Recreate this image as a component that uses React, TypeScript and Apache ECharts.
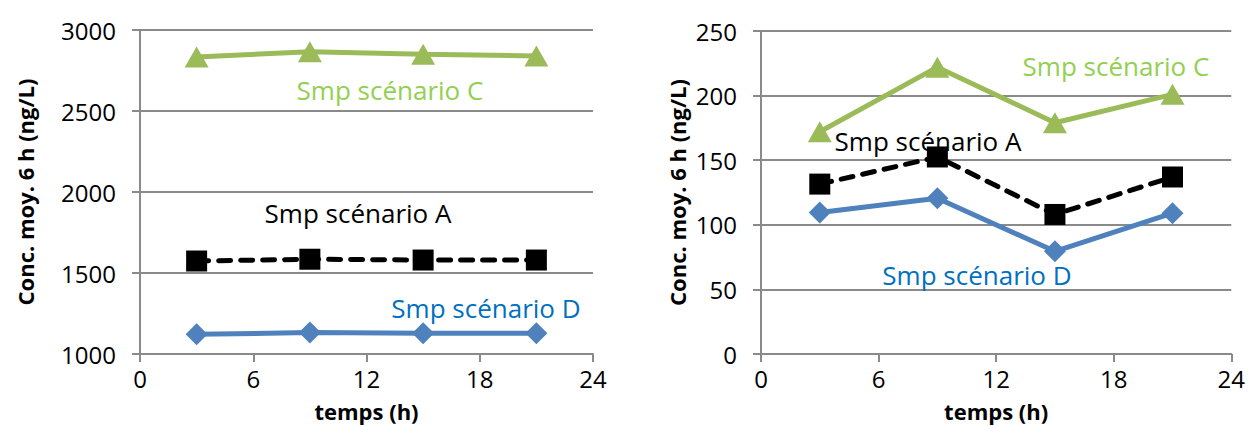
import React, { useEffect, useRef } from "react";
import * as echarts from "echarts";

const hours = [3, 9, 15, 21];
const xTicks = [0, 6, 12, 18, 24];

// Left panel (ng/L)
const leftC = [2833, 2866, 2850, 2840];
const leftA = [1574, 1585, 1580, 1580];
const leftD = [1122, 1132, 1128, 1128];

// Right panel (ng/L)
const rightC = [172, 222, 179, 201];
const rightA = [131.5, 152.5, 108, 137];
const rightD = [109.5, 120.5, 79.5, 109];

const labelC = "Smp scénario C";
const labelA = "Smp scénario A";
const labelD = "Smp scénario D";
const yName = "Conc. moy. 6 h (ng/L)";
const xName = "temps (h)";

const FONT = "'Open Sans', 'Noto Sans', sans-serif";
const GRID = "#8a8a8a";
const GREEN = "#9BBB59";
const BLUE = "#4F81BD";
const GREEN_TXT = "#92D050";
const BLUE_TXT = "#0070C0";

const pair = (ys: number[]) => hours.map((h, i) => [h, ys[i]]);

function xAxis(gridIndex: number) {
  return {
    type: "value",
    gridIndex,
    min: xTicks[0],
    max: xTicks[xTicks.length - 1],
    interval: 6,
    name: xName,
    nameLocation: "middle",
    nameGap: 46,
    nameTextStyle: { fontFamily: FONT, fontSize: 22, fontWeight: "bold", color: "#000", lineHeight: 22 },
    axisLine: { show: true, onZero: false, lineStyle: { color: GRID, width: 2 } },
    axisTick: { show: true, inside: false, length: 8, lineStyle: { color: GRID, width: 2 } },
    axisLabel: { fontFamily: FONT, fontSize: 24, color: "#000", margin: 12, lineHeight: 24 },
    splitLine: { show: false },
  };
}

function yAxis(gridIndex: number, min: number, max: number, interval: number, nameGap: number) {
  return {
    type: "value",
    gridIndex,
    min,
    max,
    interval,
    name: yName,
    nameLocation: "middle",
    nameGap,
    nameRotate: 90,
    nameTextStyle: { fontFamily: FONT, fontSize: 22, fontWeight: "bold", color: "#000" },
    axisLine: { show: true, lineStyle: { color: GRID, width: 2 } },
    axisTick: { show: true, inside: false, length: 8, lineStyle: { color: GRID, width: 2 } },
    axisLabel: {
      fontFamily: FONT,
      fontSize: 24,
      color: "#000",
      margin: 24,
      formatter: (v: number) => String(v),
    },
    splitLine: { show: true, lineStyle: { color: GRID, width: 2 } },
  };
}

function series(idx: number, c: number[], a: number[], d: number[]) {
  return [
    {
      type: "line",
      xAxisIndex: idx,
      yAxisIndex: idx,
      data: pair(d),
      symbol: "diamond",
      symbolSize: [22, 22],
      itemStyle: { color: BLUE },
      lineStyle: { color: BLUE, width: 5 },
      z: 3,
    },
    {
      type: "line",
      xAxisIndex: idx,
      yAxisIndex: idx,
      data: pair(a),
      symbol: "rect",
      symbolSize: [21, 21],
      itemStyle: { color: "#000" },
      lineStyle: { color: "#000", width: 5, type: [12, 10], cap: "round" },
      z: 4,
    },
    {
      type: "line",
      xAxisIndex: idx,
      yAxisIndex: idx,
      data: pair(c),
      symbol: "triangle",
      symbolSize: [24, 21],
      itemStyle: { color: GREEN },
      lineStyle: { color: GREEN, width: 5 },
      z: 5,
    },
  ];
}

function label(text: string, x: number, y: number, color: string) {
  return {
    type: "text",
    x,
    y,
    z: 10,
    style: {
      text,
      fill: color,
      font: `26px ${FONT}`,
      align: "center",
      verticalAlign: "middle",
    },
  };
}

export default function App() {
  const ref = useRef<HTMLDivElement>(null);
  useEffect(() => {
    if (!ref.current) return;
    const chart = echarts.init(ref.current, undefined, { renderer: "svg" });
    chart.setOption({
      animation: false,
      backgroundColor: "#fff",
      grid: [
        { left: 140, top: 30, width: 453, height: 324 },
        { left: 761, top: 31, width: 473, height: 324 },
      ],
      xAxis: [xAxis(0), xAxis(1)],
      yAxis: [yAxis(0, 1000, 3000, 500, 104), yAxis(1, 0, 250, 50, 73)],
      series: [...series(0, leftC, leftA, leftD), ...series(1, rightC, rightA, rightD)],
      graphic: [
        label(labelC, 390, 90, GREEN_TXT),
        label(labelA, 358, 213, "#000"),
        label(labelD, 486, 308, BLUE_TXT),
        label(labelC, 1116, 66, GREEN_TXT),
        label(labelA, 928, 141, "#000"),
        label(labelD, 977, 275, BLUE_TXT),
      ],
    });
    return () => chart.dispose();
  }, []);
  return (
    <div
      ref={ref}
      style={{ position: "fixed", left: 0, top: 0, width: 1248, height: 427, background: "#fff" }}
    />
  );
}
